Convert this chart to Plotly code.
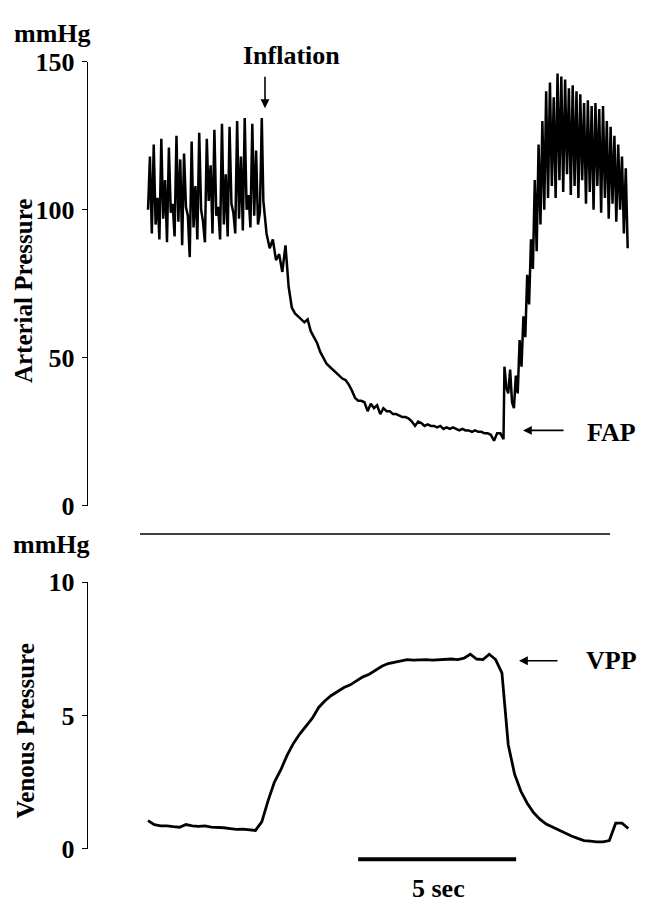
import plotly.graph_objects as go

# The page body adds an 8 px margin on every side; keep the figure inside the window
OFF = 8
FW, FH = 648 - 2 * OFF, 917 - 2 * OFF

# ---------------- data ----------------
# Arterial pressure, mmHg. Three segments, each evenly sampled (seconds).
art_pre_t0, art_pre_dt = 0.0, 0.06          # before cuff inflation
art_pre = [100, 118, 92, 122, 95, 104, 90, 124, 97, 110,
           89, 121, 99, 102, 91, 125, 96, 117, 88, 119,
           101, 98, 84, 123, 94, 108, 90, 126, 100, 96,
           89, 124, 103, 115, 92, 127, 98, 101, 90, 129,
           95, 112, 91, 128, 102, 99, 92, 130, 97, 118,
           93, 131, 100, 105, 94, 129, 98, 120, 95, 99, 131]

art_fall_t0, art_fall_dt = 3.65, 0.1        # decay during inflation
art_fall = [103, 92, 87, 90, 83, 85, 79, 88, 74, 67,
            65, 64, 63, 62, 63, 59, 57, 55, 52, 50,
            48, 47, 46, 45, 44, 43, 42.5, 41, 39, 36.5,
            35.5, 35.5, 35, 32, 34.5, 33, 34, 31, 33, 32,
            32, 31, 31, 30.5, 30, 30, 29.5, 28.5, 27, 28.5,
            28, 27, 27.5, 27, 27, 26.5, 27, 26, 26.5, 26,
            26.5, 26, 25.5, 26, 25.5, 25.5, 25, 25.5, 25, 25,
            24.5, 24.5, 24, 22, 24.5, 24.5, 22.5]

art_post_t0, art_post_dt = 11.28, 0.06      # recovery after deflation
art_post = [47, 40, 38, 46, 35, 33, 44, 38, 56, 47,
            64, 57, 78, 68, 90, 80, 110, 86, 122, 95,
            130, 100, 140, 104, 143, 108, 138, 104, 146, 110,
            145, 106, 144, 112, 141, 105, 142, 108, 140, 104,
            139, 110, 136, 102, 137, 106, 135, 100, 136, 108,
            134, 99, 135, 104, 130, 97, 128, 102, 125, 96,
            122, 100, 118, 92, 114, 87]

# Venous pressure, mmHg, evenly sampled (seconds)
ven_t0, ven_dt = 0.0, 0.2
ven = [1.05, 0.9, 0.85, 0.85, 0.82, 0.8, 0.9, 0.85, 0.83, 0.85,
       0.8, 0.8, 0.78, 0.75, 0.72, 0.73, 0.7, 0.68, 1.0, 1.8,
       2.5, 2.95, 3.5, 3.95, 4.3, 4.6, 4.9, 5.3, 5.55, 5.75,
       5.9, 6.05, 6.15, 6.3, 6.45, 6.55, 6.7, 6.85, 6.95, 7.0,
       7.05, 7.1, 7.08, 7.1, 7.1, 7.08, 7.1, 7.1, 7.12, 7.1,
       7.15, 7.3, 7.12, 7.1, 7.3, 7.1, 6.6, 3.9, 2.8, 2.15,
       1.7, 1.35, 1.1, 0.92, 0.8, 0.7, 0.58, 0.47, 0.38, 0.3,
       0.28, 0.25, 0.25, 0.3, 0.95, 0.95, 0.75]

art_ticks = [0, 50, 100, 150]
ven_ticks = [0, 5, 10]
scale_bar_start, scale_bar_len = 6.65, 5.0   # seconds
x_range = [-1.90, 15.57]

# ---------------- build ----------------
def times(t0, dt, vals):
    return [t0 + i * dt for i in range(len(vals))]

art_t = (times(art_pre_t0, art_pre_dt, art_pre)
         + times(art_fall_t0, art_fall_dt, art_fall)
         + times(art_post_t0, art_post_dt, art_post))
art_v = art_pre + art_fall + art_post

FONT = "Liberation Serif"

def px(x):   # window pixel -> paper
    return (x - OFF) / FW

def py(y):
    return 1 - (y - OFF) / FH

fig = go.Figure()
fig.add_trace(go.Scatter(x=art_t, y=art_v, mode="lines",
                         line=dict(color="black", width=2.5),
                         xaxis="x", yaxis="y", showlegend=False))
fig.add_trace(go.Scatter(x0=ven_t0, dx=ven_dt, y=ven, mode="lines",
                         line=dict(color="black", width=2.8),
                         xaxis="x2", yaxis="y2", showlegend=False))

tickfont = dict(family=FONT, size=26, color="black", weight="bold")
yax_common = dict(showline=True, linecolor="black", linewidth=1.4,
                  ticks="outside", ticklen=5, tickwidth=1.4, tickcolor="black",
                  showgrid=False, zeroline=False, tickfont=tickfont,
                  ticklabelstandoff=2, fixedrange=True)
xax_common = dict(visible=False, range=x_range, domain=[px(88), 1],
                  fixedrange=True)

fig.update_layout(
    width=FW, height=FH,
    margin=dict(l=0, r=0, t=0, b=0),
    paper_bgcolor="white", plot_bgcolor="white",
    xaxis=dict(**xax_common, anchor="y"),
    xaxis2=dict(**xax_common, anchor="y2"),
    yaxis=dict(**yax_common, domain=[py(508), py(49)], range=[0, 150],
               tickvals=art_ticks, anchor="x"),
    yaxis2=dict(**yax_common, domain=[py(862), py(587)], range=[0, 10],
                tickvals=ven_ticks, anchor="x2"),
)

def txt(text, x, y, angle=0, size=26):
    fig.add_annotation(text=text, x=px(x), y=py(y), xref="paper", yref="paper",
                       showarrow=False, xanchor="center", yanchor="middle",
                       textangle=angle,
                       font=dict(family=FONT, size=size, color="black",
                                 weight="bold"))

def arrow(xh, yh, ax, ay):
    fig.add_annotation(text="", x=px(xh), y=py(yh), xref="paper", yref="paper",
                       showarrow=True, ax=ax, ay=ay, arrowhead=2,
                       arrowsize=1.1, arrowwidth=1.6, arrowcolor="black",
                       standoff=0, startstandoff=0)

txt("mmHg", 52, 20)
txt("mmHg", 51, 548)
txt("Inflation", 291, 43)
arrow(265, 97, 0, -33)
txt("FAP", 611, 432)
arrow(523, 430, 42, 0)
txt("VPP", 611, 668)
arrow(519, 668, 40, 0)
txt("Arterial Pressure", 23, 286, angle=-90, size=25)
txt("Venous Pressure", 25, 741, angle=-90, size=25)
txt("5 sec", 438, 903)

# separator line between panels
fig.add_shape(type="line", xref="paper", yref="paper",
              x0=px(140), x1=px(610), y0=py(537), y1=py(537),
              line=dict(color="black", width=1.6))
# 5-second scale bar (in time units of the lower panel)
fig.add_shape(type="line", xref="x2", yref="paper",
              x0=scale_bar_start, x1=scale_bar_start + scale_bar_len,
              y0=py(873), y1=py(873),
              line=dict(color="black", width=4))

fig.write_html("out.html")
